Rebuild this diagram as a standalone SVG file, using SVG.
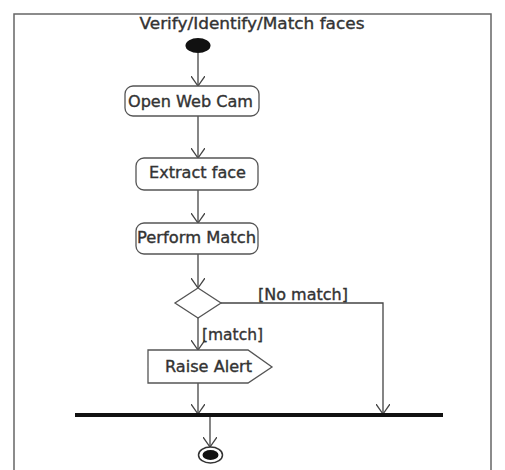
<svg xmlns="http://www.w3.org/2000/svg" width="505" height="470" viewBox="0 0 505 470">
<defs>
<marker id="arr" viewBox="0 0 10 14" refX="10" refY="7" markerWidth="10" markerHeight="14" markerUnits="userSpaceOnUse" orient="auto">
<path d="M0,0 L10,7 L0,14" fill="none" stroke="#444" stroke-width="1.3"/>
</marker>
<style>
.t{font-family:"DejaVu Sans",Verdana,sans-serif;fill:#333;stroke:#333;stroke-width:0.35}
.box{fill:#fff;stroke:#555;stroke-width:1.3}
.c{fill:none;stroke:#444;stroke-width:1.3}
</style>
</defs>
<rect width="505" height="470" fill="#fff"/>
<path d="M14,476 L14,14 L491,14 L491,476" fill="none" stroke="#666" stroke-width="1.5"/>
<text class="t" x="252" y="29" font-size="15" text-anchor="middle" textLength="225" lengthAdjust="spacingAndGlyphs">Verify/Identify/Match faces</text>
<g id="connectors">
<path class="c" d="M198,53 L198,86" marker-end="url(#arr)"/>
<path class="c" d="M198,116 L198,158" marker-end="url(#arr)"/>
<path class="c" d="M198,190 L198,223" marker-end="url(#arr)"/>
<path class="c" d="M198,254 L198,288" marker-end="url(#arr)"/>
<path class="c" d="M221,303 L383,303 L383,414" marker-end="url(#arr)"/>
<path class="c" d="M198,318 L198,350" marker-end="url(#arr)"/>
<path class="c" d="M198,383 L198,414" marker-end="url(#arr)"/>
<path class="c" d="M210,417 L210,447" marker-end="url(#arr)"/>
<text class="t" x="258" y="300" font-size="15" textLength="90" lengthAdjust="spacingAndGlyphs">[No match]</text>
<text class="t" x="202" y="340" font-size="15" textLength="61" lengthAdjust="spacingAndGlyphs">[match]</text>
</g>
<g id="start"><ellipse cx="198" cy="45.5" rx="12.5" ry="7.5" fill="#111"/></g>
<g id="open-web-cam">
<rect class="box" x="125" y="86" width="134" height="30" rx="8"/>
<text class="t" x="128" y="107" font-size="15" textLength="125" lengthAdjust="spacingAndGlyphs">Open Web Cam</text>
</g>
<g id="extract-face">
<rect class="box" x="136" y="158" width="122" height="32" rx="8"/>
<text class="t" x="149" y="178" font-size="15" textLength="97" lengthAdjust="spacingAndGlyphs">Extract face</text>
</g>
<g id="perform-match">
<rect class="box" x="136" y="223" width="122" height="31" rx="8"/>
<text class="t" x="137" y="243" font-size="15" textLength="119" lengthAdjust="spacingAndGlyphs">Perform Match</text>
</g>
<g id="decision"><polygon class="box" points="198,288 221,303 198,318 175,303"/></g>
<g id="raise-alert">
<polygon class="box" points="148,350 248,350 272,367 248,383 148,383"/>
<text class="t" x="165" y="372" font-size="15" textLength="87" lengthAdjust="spacingAndGlyphs">Raise Alert</text>
</g>
<g id="join"><rect x="75" y="413" width="368" height="4" fill="#111"/></g>
<g id="end">
<ellipse cx="210.5" cy="455" rx="12" ry="8" fill="#fff" stroke="#333" stroke-width="1.5"/>
<ellipse cx="210.5" cy="455" rx="8" ry="5" fill="#111"/>
</g>
</svg>
